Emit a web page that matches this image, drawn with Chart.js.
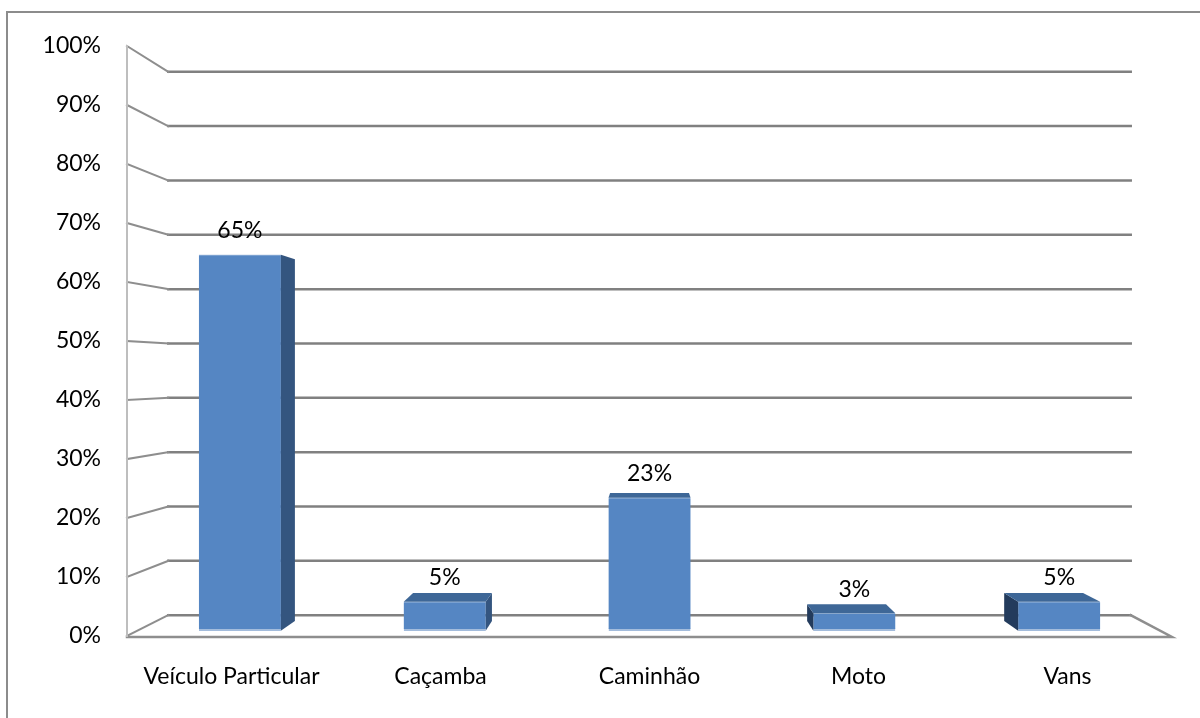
<!DOCTYPE html>
<html>
<head>
<meta charset="utf-8">
<script src="https://cdn.jsdelivr.net/npm/chart.js@4.4.1/dist/chart.umd.min.js"></script>
<style>
  html, body { margin: 0; padding: 0; background: #fff; }
  #grafico { display: block; }
</style>
</head>
<body>
<canvas id="grafico" width="1200" height="718"></canvas>
<script>
// categorias e valores (percentual de veículos)
const categorias = ['Veículo Particular', 'Caçamba', 'Caminhão', 'Moto', 'Vans'];
const percentuais = [65, 5, 23, 3, 5];
const ticksY = [0, 10, 20, 30, 40, 50, 60, 70, 80, 90, 100];

const FONTE = 'Lato, "Liberation Sans", sans-serif';

// ponto de fuga e profundidades (efeito 3D estilo Excel)
function pontoFuga(area) {
    return { x: (area.left + area.right) / 2, y: area.top + 0.553 * (area.bottom - area.top) };
}
function proj(p, v, s) {
    return { x: v.x + (p.x - v.x) * s, y: v.y + (p.y - v.y) * s };
}

const plugin3d = {
    id: 'efeito3d',
    beforeDraw(chart) {
        const c = chart.ctx;
        c.save();
        c.fillStyle = '#fff';
        c.fillRect(0, 0, chart.width, chart.height);
        // moldura externa
        c.strokeStyle = '#8c8c8c';
        c.lineWidth = 2;
        c.beginPath();
        c.moveTo(7, chart.height);
        c.lineTo(7, 12);
        c.lineTo(chart.width, 12);
        c.stroke();
        c.restore();
    },
    beforeDatasetsDraw(chart) {
        const c = chart.ctx;
        const a = chart.chartArea;
        const v = pontoFuga(a);
        const sy = chart.scales.y;
        const fundo = 0.921;
        c.save();
        c.lineCap = 'square';
        ticksY.forEach(t => {
            const yf = sy.getPixelForValue(t);
            const fl = { x: a.left, y: yf };
            const fr = { x: a.right, y: yf };
            const bl = proj(fl, v, fundo);
            const br = proj(fr, v, fundo);
            // linha de grade na parede do fundo
            c.strokeStyle = '#808080';
            c.lineWidth = 2.5;
            c.beginPath();
            c.moveTo(bl.x, bl.y);
            c.lineTo(br.x, br.y);
            c.stroke();
            // diagonal na parede lateral
            c.strokeStyle = '#8e8e8e';
            c.lineWidth = 2;
            c.beginPath();
            c.moveTo(fl.x, fl.y);
            c.lineTo(bl.x, bl.y);
            c.stroke();
            if (t === 0) {
                // piso
                c.lineWidth = 2.5;
                c.beginPath();
                c.moveTo(br.x, br.y);
                c.lineTo(fr.x, fr.y + 1);
                c.lineTo(fl.x, fl.y + 1);
                c.stroke();
            }
        });
        // eixo vertical
        c.strokeStyle = '#bebebe';
        c.lineWidth = 2;
        c.beginPath();
        c.moveTo(a.left, a.top);
        c.lineTo(a.left, a.bottom);
        c.stroke();
        c.restore();
    },
    afterDatasetsDraw(chart) {
        const c = chart.ctx;
        const v = pontoFuga(chart.chartArea);
        const prof = 0.962;
        const meta = chart.getDatasetMeta(0);
        c.save();
        meta.data.forEach((el, i) => {
            const { x, y, base, width } = el.getProps(['x', 'y', 'base', 'width'], true);
            const l = x - width / 2, r = x + width / 2;
            const quad = (pts, cor) => {
                c.fillStyle = cor;
                c.beginPath();
                c.moveTo(pts[0].x, pts[0].y);
                pts.slice(1).forEach(p => c.lineTo(p.x, p.y));
                c.closePath();
                c.fill();
            };
            if (r < v.x) {
                const a1 = { x: r, y: y }, a2 = { x: r, y: base };
                quad([a1, a2, proj(a2, v, prof), proj(a1, v, prof)], '#34557f');
            } else if (l > v.x) {
                const a1 = { x: l, y: y }, a2 = { x: l, y: base };
                quad([a1, a2, proj(a2, v, prof), proj(a1, v, prof)], '#233b5c');
            }
            if (y > v.y) {
                const t1 = { x: l, y: y }, t2 = { x: r, y: y };
                quad([t1, t2, proj(t2, v, prof), proj(t1, v, prof)], '#3e6797');
            }
            // rótulo de valor
            c.fillStyle = '#000';
            c.font = '23px ' + FONTE;
            c.textAlign = 'center';
            c.textBaseline = 'middle';
            c.fillText(percentuais[i] + '%', x, y - 24);
        });
        c.restore();
    }
};

const grafico = new Chart(document.getElementById('grafico'), {
    type: 'bar',
    data: {
        labels: categorias,
        datasets: [{
            label: 'Veículos',
            data: percentuais.map((p, i) => ({ x: i, y: p })),
            xAxisID: 'xb',
            yAxisID: 'yb',
            backgroundColor: '#5586c3',
            borderColor: '#a3bcdc',
            borderWidth: { top: 1, bottom: 2, left: 0, right: 0 },
            borderSkipped: false,
            barThickness: 82
        }]
    },
    options: {
        responsive: false,
        animation: false,
        layout: { padding: { left: 0, right: 28, top: 46, bottom: 0 } },
        plugins: {
            legend: { display: false },
            tooltip: { enabled: false }
        },
        scales: {
            x: {
                type: 'category',
                offset: true,
                grid: { display: false, drawTicks: false },
                border: { display: false },
                ticks: { color: '#000', font: { family: FONTE, size: 23 }, padding: 27, maxRotation: 0 },
                afterFit: s => { s.height = 82; }
            },
            y: {
                type: 'linear',
                min: 0,
                max: 100,
                grid: { display: false, drawTicks: false },
                border: { display: false },
                ticks: {
                    stepSize: 10,
                    color: '#000',
                    font: { family: FONTE, size: 23 },
                    padding: 26,
                    callback: val => val + '%'
                },
                afterFit: s => { s.width = 127; }
            },
            xb: { type: 'linear', display: false, offset: false, min: -0.5512, max: 4.5508 },
            yb: { type: 'linear', display: false, min: -0.917, max: 101.12 }
        }
    },
    plugins: [plugin3d]
});
</script>
</body>
</html>
